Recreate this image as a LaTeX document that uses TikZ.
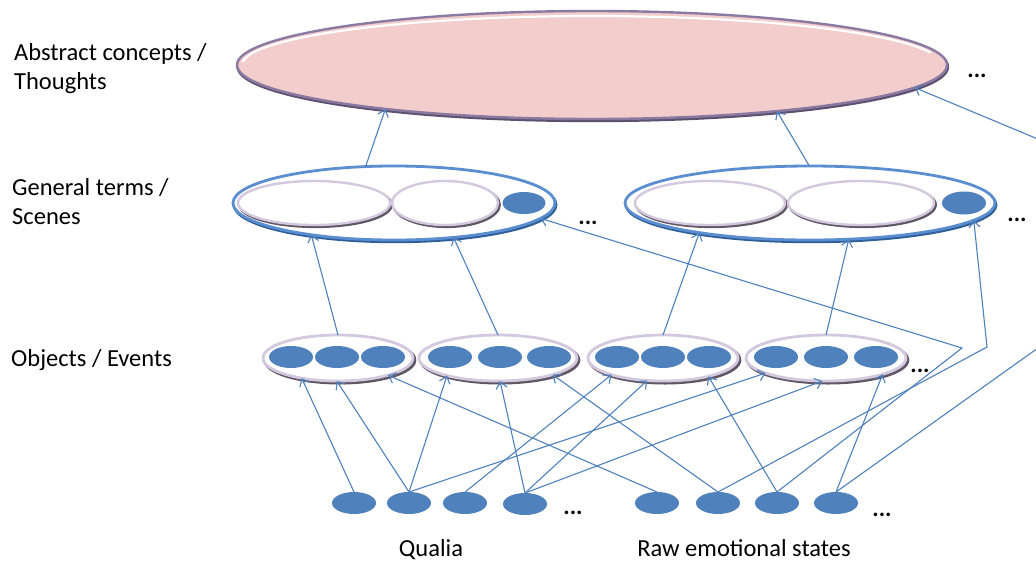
\documentclass[tikz,border=0pt]{standalone}
\usepackage{fontspec}
\setmainfont{Carlito}
\usetikzlibrary{shapes.geometric,arrows.meta,shadows}
\definecolor{cblue}{HTML}{4F81BD}
\definecolor{cpink}{HTML}{F2CDCB}
\definecolor{topedge}{HTML}{8A7AA2}
\definecolor{topdark}{HTML}{5E5070}
\definecolor{ringlight}{HTML}{D3C8DE}
\definecolor{ringdark}{HTML}{5F5763}
\definecolor{grpblue}{HTML}{5B8ED0}
\definecolor{grpdark}{HTML}{2F5E97}
\begin{document}
\begin{tikzpicture}[x=1pt,y=-1pt,
  conn/.style={draw=cblue, line width=1.1pt, -{Straight Barb[length=6.5pt,width=11pt]}},
  dot/.style={ellipse, fill=cblue, inner sep=0, outer sep=0, minimum width=44pt, minimum height=22pt},
  ring/.style={ellipse, fill=white, draw=ringlight, line width=2.8pt, inner sep=0, outer sep=0,
    general shadow={draw=ringdark, line width=3pt, shadow xshift=1.8pt, shadow yshift=-2pt}},
  inring/.style={ellipse, fill=white, draw=ringlight, line width=2.4pt, inner sep=0, outer sep=0,
    general shadow={draw=ringdark, line width=2.6pt, shadow xshift=1.6pt, shadow yshift=-1.8pt}},
  grp/.style={ellipse, fill=white, draw=grpblue, line width=2.8pt, inner sep=0, outer sep=0,
    general shadow={draw=grpdark, line width=2.8pt, shadow xshift=1pt, shadow yshift=-1.8pt}},
  lab/.style={font=\fontsize{24.5}{29}\selectfont, inner sep=0, anchor=base west, align=left},
  captext/.style={font=\fontsize{24.5}{29}\selectfont, inner sep=0, anchor=base},
  more/.style={font=\fontsize{24}{29}\selectfont\bfseries, inner sep=0, anchor=base}
]
\useasboundingbox (0,0) rectangle (1036,563);
\fill[white] (0,0) rectangle (1036,563);
\clip (0,0) rectangle (1036,563);

% ---------- top layer ----------
\node[ellipse, minimum width=710pt, minimum height=108pt, inner sep=0, outer sep=0,
  fill=cpink, draw=topedge, line width=2.4pt,
  general shadow={draw=topdark, line width=2.8pt, shadow xshift=0.8pt, shadow yshift=-1.8pt}] (abs) at (592,65) {};
\draw[white, line width=2.2pt, line cap=round] (592,65) ++ ({350*cos(184)},{49*sin(184)})
  arc[start angle=184, end angle=345, x radius=350, y radius=49];
\node[more] (dotsA) at (977,77) {...};

% ---------- general terms ----------
\node[grp, minimum width=322pt, minimum height=74pt] (gL) at (394,203) {};
\node[inring, minimum width=152pt, minimum height=44pt] (gL1) at (314,203) {};
\node[inring, minimum width=106pt, minimum height=44pt] (gL2) at (445,203) {};
\node[dot, minimum width=43pt, minimum height=22pt] (gLd) at (524,203) {};
\node[more] (dotsB) at (588,224) {...};

\node[grp, minimum width=370pt, minimum height=74pt] (gR) at (810,203) {};
\node[inring, minimum width=150pt, minimum height=44pt] (gR1) at (710,203) {};
\node[inring, minimum width=146pt, minimum height=44pt] (gR2) at (861,203) {};
\node[dot, minimum width=44pt, minimum height=23pt] (gRd) at (964,203) {};
\node[more] (dotsC) at (1017,221) {...};

% ---------- objects / events ----------
\node[ring, minimum width=150pt, minimum height=46pt] (o1) at (338,358) {};
\node[dot] (o1a) at (291,357) {};
\node[dot] (o1b) at (337,357) {};
\node[dot] (o1c) at (383,357) {};
\node[ring, minimum width=158pt, minimum height=46pt] (o2) at (498,358) {};
\node[dot] (o2a) at (450,357) {};
\node[dot] (o2b) at (500,357) {};
\node[dot] (o2c) at (549,357) {};
\node[ring, minimum width=150pt, minimum height=46pt] (o3) at (663,358) {};
\node[dot] (o3a) at (617,357) {};
\node[dot] (o3b) at (663,357) {};
\node[dot] (o3c) at (709,357) {};
\node[ring, minimum width=160pt, minimum height=46pt] (o4) at (826,358) {};
\node[dot] (o4a) at (776,357) {};
\node[dot] (o4b) at (826,357) {};
\node[dot] (o4c) at (876,357) {};
\node[more] (dotsD) at (920,372) {...};

% ---------- bottom layer ----------
\node[dot] (b1) at (354,503) {};
\node[dot] (b2) at (409,503) {};
\node[dot] (b3) at (465,503) {};
\node[dot] (b4) at (525,504) {};
\node[more] (dotsE) at (573,514) {...};
\node[dot] (b5) at (657,503) {};
\node[dot] (b6) at (718,503) {};
\node[dot] (b7) at (777,503) {};
\node[dot] (b8) at (836,503) {};
\node[more] (dotsF) at (882,516) {...};

% ---------- labels ----------
\node[lab] (labA) at (14,89) {Abstract concepts /\\Thoughts};
\node[lab] (labG) at (12,224) {General terms /\\Scenes};
\node[lab] (labO) at (11,366) {Objects / Events};
\node[captext] (labQ) at (431,556) {Qualia};
\node[captext] (labR) at (744,556) {Raw emotional states};

% ---------- connectors: bottom -> objects ----------
\draw[conn] (b1.north) -- (o1.209);
\draw[conn] (b2.north) -- (o1.267);
\draw[conn] (b5.north) -- (o1.341);
\draw[conn] (b2.north) -- (o2.199);
\draw[conn] (b4.north) -- (o2.275);
\draw[conn] (b6.north) -- (o2.343);
\draw[conn] (b3.north) -- (o3.198);
\draw[conn] (b4.north) -- (o3.235);
\draw[conn] (b7.north) -- (o3.338);
\draw[conn] (b2.north) -- (o4.194);
\draw[conn] (b4.north) -- (o4.261);
\draw[conn] (b8.north) -- (o4.344);

% ---------- objects -> general terms ----------
\draw[conn] (o1.north) -- (gL.201);
\draw[conn] (o2.north) -- (gL.330);
\draw[conn] (o3.north) -- (gR.195);
\draw[conn] (o4.north) -- (gR.317);

% ---------- general terms -> abstract ----------
\draw[conn] (gL.128) -- (abs.192);
\draw[conn] (gR.91) -- (abs.346.5);

% ---------- long bent connectors ----------
\coordinate (k1) at (962,348);
\coordinate (k2) at (987,347);
\coordinate (k3) at (1045,343);
\coordinate (k4) at (1045,142);
\draw[conn] (b7.north) -- (k1) -- (gL.354);
\draw[conn] (b6.north) -- (k2) -- (gR.354);
\draw[conn] (b8.north) -- (k3) -- (k4) -- (abs.356);
\end{tikzpicture}
\end{document}
